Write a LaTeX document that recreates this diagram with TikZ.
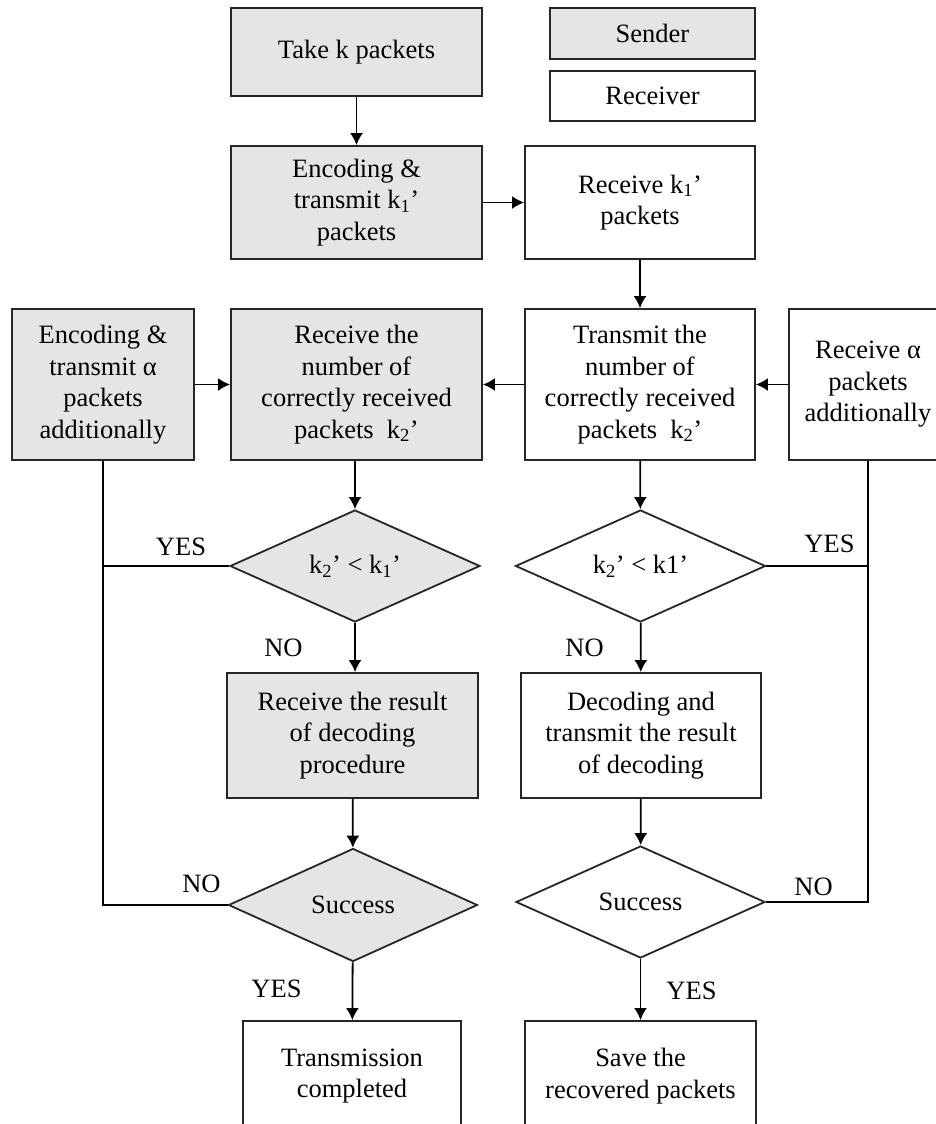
\documentclass[tikz,border=0pt]{standalone}
\usepackage{fontspec}
\setmainfont{Liberation Serif}
\usetikzlibrary{shapes.geometric,arrows.meta}

\tikzset{
  txt/.style={font=\fontsize{26.5}{31.5}\selectfont},
  wh/.style 2 args={minimum width=#1pt, minimum height=#2pt},
  box/.style={txt, draw=black!85, line width=1.8pt, align=center, inner sep=0pt},
  sendbox/.style={box, fill=black!10},
  recvbox/.style={box, fill=white},
  decision/.style={box, diamond, aspect=2.2},
  lbl/.style={txt, inner sep=0pt}
}

\begin{document}
\begin{tikzpicture}
  [x=1pt, y=-1pt, line width=1.8pt, -{Latex[length=12pt,width=13pt]}]

  \path[use as bounding box] (0,0) rectangle (936,1124);
  \clip (0,0) rectangle (936,1124);

  % Legenda
  \node[sendbox, wh={205}{51}] (sender) at (652.5,33.5) {Sender};
  \node[recvbox, wh={205}{50}] (receiver) at (652.5,96) {Receiver};

  % Primeira e segunda linhas
  \node[sendbox, wh={251}{88}] (take) at (356.5,52) {Take k packets};
  \node[sendbox, wh={251}{113}] (enc) at (356.5,202.5)
    {Encoding \&\\transmit k\textsubscript{1}’\\packets};
  \node[recvbox, wh={230}{113}] (rcv1) at (640,202.5)
    {Receive k\textsubscript{1}’\\packets};

  % Terceira linha
  \node[sendbox, wh={182}{151}] (encalpha) at (103,384.5)
    {Encoding \&\\transmit α\\packets\\additionally};
  \node[sendbox, wh={251}{151}] (rcvnum) at (356.5,384.5)
    {Receive the\\number of\\correctly received\\packets~ k\textsubscript{2}’};
  \node[recvbox, wh={230}{151}] (trnum) at (640,384.5)
    {Transmit the\\number of\\correctly received\\packets~ k\textsubscript{2}’};
  \node[recvbox, wh={158}{151}] (rcvalpha) at (868,384.5)
    {Receive α\\packets\\additionally};

  % Primeira decisão
  \node[decision, fill=black!10, wh={250}{112}] (chk1) at (355,566)
    {k\textsubscript{2}’ < k\textsubscript{1}’};
  \node[decision, fill=white, wh={250}{112}] (chk2) at (640.5,566)
    {k\textsubscript{2}’ < k1’};

  % Quarta linha
  \node[sendbox, wh={251}{125}] (result) at (352.5,735.5)
    {Receive the result\\of decoding\\procedure};
  \node[recvbox, wh={240}{125}] (decode) at (641,735.5)
    {Decoding and\\transmit the result\\of decoding};

  % Segunda decisão
  \node[decision, fill=black!10, wh={249}{113}] (succ1) at (353,905) {Success};
  \node[decision, fill=white, wh={249}{112}] (succ2) at (640.5,902) {Success};

  % Última linha
  \node[recvbox, wh={218}{110}] (done) at (352,1076)
    {Transmission\\completed};
  \node[recvbox, wh={231}{110}] (save) at (640.5,1076)
    {Save the\\recovered packets};

  % Rótulos
  \node[lbl] (yes1) at (181,547) {YES};
  \node[lbl] (yes2) at (829.5,544) {YES};
  \node[lbl] (no1) at (283.5,648) {NO};
  \node[lbl] (no2) at (584.5,648) {NO};
  \node[lbl] (no3) at (201.5,884) {NO};
  \node[lbl] (no4) at (813.5,887) {NO};
  \node[lbl] (yes3) at (276.5,989) {YES};
  \node[lbl] (yes4) at (691.5,991) {YES};

  % Setas
  \draw (take) -- (enc);
  \draw (enc) -- (rcv1);
  \draw (rcv1) -- (trnum);
  \draw (encalpha) -- (rcvnum);
  \draw (trnum) -- (rcvnum);
  \draw (rcvalpha) -- (trnum);
  \draw (rcvnum.south -| chk1.north) -- (chk1.north);
  \draw (trnum) -- (chk2);
  \draw (chk1.south) -- (chk1.south |- result.north);
  \draw (chk2) -- (decode);
  \draw (result) -- (succ1);
  \draw (decode) -- (succ2);
  \draw (succ1) -- (done);
  \draw (succ2) -- (save);

  % Laços de repetição
  \draw[-] (chk1.west) -- (chk1.west -| encalpha.south);
  \draw[-] (succ1.west) -| (encalpha.south);
  \draw[-] (chk2.east) -- (chk2.east -| rcvalpha.south);
  \draw[-] (succ2.east) -| (rcvalpha.south);
\end{tikzpicture}
\end{document}
